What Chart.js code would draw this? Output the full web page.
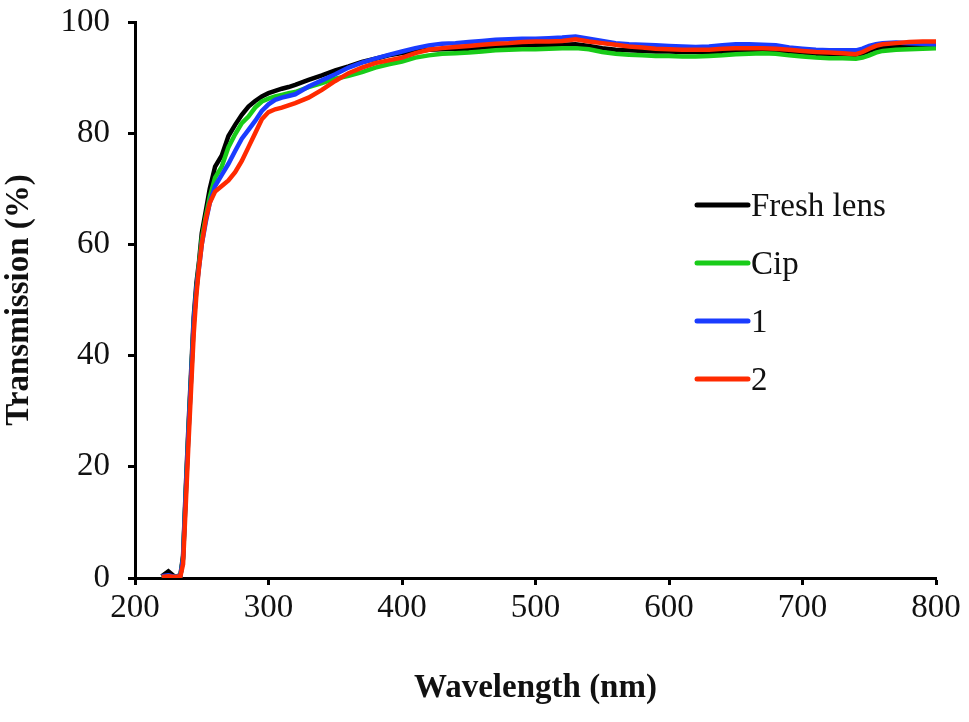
<!DOCTYPE html>
<html>
<head>
<meta charset="utf-8">
<script src="https://cdn.jsdelivr.net/npm/chart.js@4"></script>
<style>
  html, body { margin: 0; padding: 0; background: #fff; }
  #wrap { width: 969px; height: 722px; }
</style>
</head>
<body>
<div id="wrap"><canvas id="chartTransmision" width="969" height="722"></canvas></div>
<script>
// wavelengths (nm)
const wavelengths = [
  220, 225, 230, 234, 236, 238, 240, 242, 244, 246,
  248, 250, 253, 256, 260, 265, 270, 275, 280, 285,
  290, 295, 300, 305, 310, 315, 320, 330, 340, 350,
  360, 370, 380, 390, 400, 410, 420, 430, 440, 450,
  460, 470, 480, 490, 500, 510, 520, 530, 540, 550,
  560, 570, 580, 590, 600, 610, 620, 630, 640, 650,
  660, 670, 680, 690, 700, 710, 720, 730, 740, 745,
  750, 755, 760, 770, 780, 790, 800,
];

const freshLens = [
  0.3, 1.2, 0.2, 0.5, 4, 16, 27, 37, 47, 53,
  57, 62, 66, 70, 74, 76, 79.5, 81.5, 83.3, 84.8,
  85.8, 86.6, 87.2, 87.6, 88.0, 88.3, 88.7, 89.6, 90.4, 91.3,
  92.0, 92.8, 93.4, 94.0, 94.4, 94.7, 95.0, 95.1, 95.2, 95.2,
  95.4, 95.5, 95.7, 95.7, 95.8, 95.8, 95.9, 96.0, 95.7, 95.3,
  95.0, 94.9, 94.8, 94.7, 94.7, 94.6, 94.6, 94.5, 94.6, 94.7,
  94.8, 94.8, 94.7, 94.6, 94.5, 94.3, 94.2, 94.2, 94.1, 94.3,
  94.8, 95.2, 95.4, 95.5, 95.6, 95.6, 95.7,
];

const cip = [
  0.2, 0.4, 0.2, 0.4, 3.5, 15, 26, 36, 46, 52,
  56.5, 61, 65, 68.5, 72, 74, 77.5, 79.8, 81.8, 83,
  84.6, 85.7, 86.2, 86.6, 86.9, 87.2, 87.4, 88.3, 89.0, 89.8,
  90.3, 91.0, 91.8, 92.4, 92.9, 93.6, 94.0, 94.3, 94.4, 94.5,
  94.7, 94.9, 95.0, 95.1, 95.1, 95.2, 95.3, 95.3, 95.1, 94.6,
  94.3, 94.1, 94.0, 93.9, 93.9, 93.8, 93.8, 93.9, 94.0, 94.2,
  94.3, 94.4, 94.3, 94.0, 93.8, 93.6, 93.5, 93.5, 93.4, 93.6,
  94.0, 94.5, 94.8, 95.0, 95.1, 95.2, 95.3,
];

const muestra1 = [
  0.3, 0.5, 0.2, 0.4, 3.5, 15, 26, 36, 46, 52,
  56, 60, 64, 67.5, 70.5, 72.5, 74.5, 76.8, 79, 80.6,
  82.2, 84, 85.2, 86, 86.4, 86.7, 87.0, 88.4, 89.5, 90.6,
  91.8, 92.7, 93.4, 94.1, 94.7, 95.3, 95.8, 96.1, 96.2, 96.4,
  96.6, 96.8, 96.9, 97.0, 97.0, 97.1, 97.2, 97.4, 97.0, 96.6,
  96.2, 96.0, 95.9, 95.8, 95.7, 95.6, 95.5, 95.6, 95.8, 96.0,
  96.0, 95.9, 95.8, 95.4, 95.2, 95.0, 94.9, 94.9, 94.9, 95.2,
  95.7, 96.0, 96.2, 96.3, 96.2, 96.1, 96.0,
];

const muestra2 = [
  0.2, 0.3, 0.2, 0.3, 2.5, 13, 24, 34, 44, 51,
  56, 60, 64.5, 67.5, 69.5, 70.5, 71.5, 73, 75, 77.5,
  80, 82.5, 83.8, 84.3, 84.6, 85.0, 85.4, 86.4, 87.8, 89.4,
  90.8, 91.8, 92.6, 93.1, 93.6, 94.4, 95.0, 95.3, 95.5, 95.7,
  95.9, 96.1, 96.2, 96.4, 96.5, 96.5, 96.6, 96.9, 96.5, 96.2,
  95.9, 95.6, 95.4, 95.2, 95.1, 95.0, 95.0, 95.0, 95.2, 95.3,
  95.3, 95.3, 95.2, 95.0, 94.8, 94.6, 94.5, 94.4, 94.2, 94.6,
  95.2, 95.7, 96.0, 96.2, 96.4, 96.5, 96.5,
];

const xTicks = [200, 300, 400, 500, 600, 700, 800];
const yTicks = [0, 20, 40, 60, 80, 100];

const series = [
  { label: "Fresh lens", values: freshLens, color: "#000000", order: 3 },
  { label: "Cip", values: cip, color: "#19cc19", order: 2 },
  { label: "1", values: muestra1, color: "#1a3cff", order: 1 },
  { label: "2", values: muestra2, color: "#ff2a00", order: 0 },
];

const fuente = "'Liberation Serif', 'Times New Roman', serif";

function puntos(values) {
  return values.map((v, i) => ({ x: wavelengths[i], y: v }));
}

// leyenda dibujada dentro del area del grafico
const leyendaPlugin = {
  id: "leyendaInterna",
  afterDraw(chart) {
    const ctx = chart.ctx;
    ctx.save();
    ctx.font = "33px " + fuente;
    ctx.textBaseline = "middle";
    ctx.textAlign = "left";
    ctx.lineCap = "round";
    series.forEach((s, i) => {
      const y = 205 + i * 58;
      ctx.strokeStyle = s.color;
      ctx.lineWidth = 5;
      ctx.beginPath();
      ctx.moveTo(697, y);
      ctx.lineTo(748, y);
      ctx.stroke();
      ctx.fillStyle = "#111";
      ctx.fillText(s.label, 751, y + 2);
    });
    ctx.restore();
  },
};

const canvas = document.getElementById("chartTransmision");

new Chart(canvas, {
  type: "line",
  data: {
    datasets: series.map((s) => ({
      label: s.label,
      data: puntos(s.values),
      borderColor: s.color,
      backgroundColor: s.color,
      borderWidth: 4.5,
      pointRadius: 0,
      tension: 0,
      order: s.order,
    })),
  },
  options: {
    responsive: false,
    animation: false,
    layout: {
      padding: { top: 22, right: 33, left: 0, bottom: 0 },
    },
    plugins: {
      legend: { display: false },
      tooltip: { enabled: false },
    },
    scales: {
      x: {
        type: "linear",
        min: 200,
        max: 800,
        afterBuildTicks: (scale) => {
          scale.ticks = xTicks.map((v) => ({ value: v }));
        },
        afterFit: (scale) => {
          scale.height = 144;
        },
        border: { display: true, color: "#000", width: 3 },
        grid: {
          drawOnChartArea: false,
          drawTicks: true,
          tickLength: 7,
          tickWidth: 3,
          tickColor: "#000",
        },
        ticks: {
          color: "#111",
          padding: 4,
          maxRotation: 0,
          font: { family: fuente, size: 33 },
        },
        title: {
          display: true,
          text: "Wavelength (nm)",
          color: "#111",
          font: { family: fuente, size: 33, weight: "bold" },
          padding: { top: 0, bottom: 14 },
        },
      },
      y: {
        type: "linear",
        min: 0,
        max: 100,
        afterBuildTicks: (scale) => {
          scale.ticks = yTicks.map((v) => ({ value: v }));
        },
        afterFit: (scale) => {
          scale.width = 135;
          scale.paddingTop = 0;
          scale.paddingBottom = 0;
        },
        border: { display: true, color: "#000", width: 3 },
        grid: {
          drawOnChartArea: false,
          drawTicks: true,
          tickLength: 7,
          tickWidth: 3,
          tickColor: "#000",
        },
        ticks: {
          color: "#111",
          padding: 18,
          font: { family: fuente, size: 33 },
        },
        title: {
          display: true,
          text: "Transmission (%)",
          color: "#111",
          font: { family: fuente, size: 33, weight: "bold" },
          padding: { top: 0, bottom: 6 },
        },
      },
    },
  },
  plugins: [leyendaPlugin],
});
</script>
</body>
</html>
